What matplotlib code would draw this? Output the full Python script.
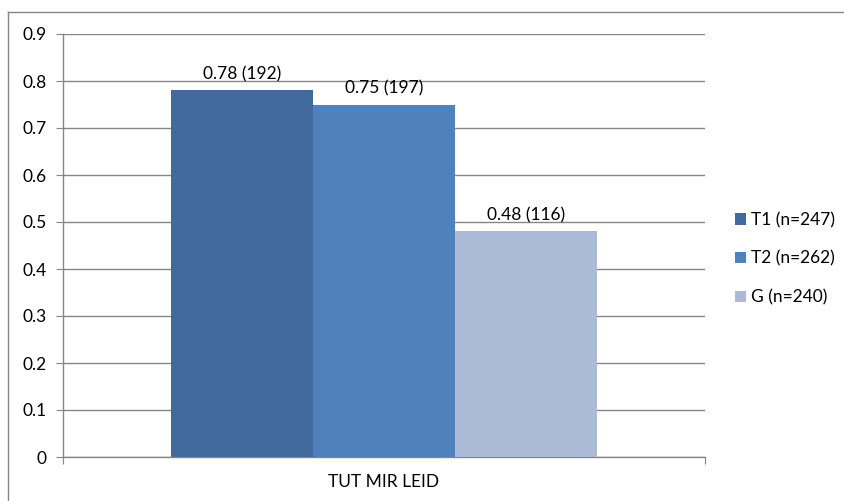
import matplotlib
matplotlib.use("Agg")
import matplotlib.pyplot as plt
from matplotlib.lines import Line2D
from matplotlib.patches import Patch

plt.rcParams['font.family'] = ['Lato', 'DejaVu Sans']

category = "TUT MIR LEID"
series = ["T1 (n=247)", "T2 (n=262)", "G (n=240)"]
values = [0.78, 0.75, 0.48]
labels = ["0.78 (192)", "0.75 (197)", "0.48 (116)"]
colors = ["#41699C", "#4F81BD", "#AABAD7"]
yticks = [0, 0.1, 0.2, 0.3, 0.4, 0.5, 0.6, 0.7, 0.8, 0.9]

W, H = 844, 501
fs = 12.5
fig = plt.figure(figsize=(W / 100, H / 100), dpi=100)
ax = fig.add_axes([63 / W, 1 - 457 / H, (705 - 63) / W, (457 - 34) / H])

bw = 142 / 642
offsets = [-bw, 0, bw]
for i, (v, lab, c) in enumerate(zip(values, labels, colors)):
    ax.bar(offsets[i], v, width=bw, color=c, zorder=3)
    ax.annotate(lab, (offsets[i], v), xytext=(0, 6), textcoords="offset points",
                ha="center", va="bottom", fontsize=fs, color="#000000", zorder=4)

ax.set_xlim(-0.5, 0.5)
ax.set_ylim(0, 0.9)
ax.set_yticks(yticks)
ax.set_yticklabels([f"{t:g}" for t in yticks], fontsize=fs)
ax.yaxis.grid(True, color="#868686", linewidth=1.0, zorder=0)
ax.set_xticks([-0.5, 0.5])
ax.set_xticklabels(["", ""])
ax.tick_params(axis="y", length=5, color="#868686", pad=7)
ax.tick_params(axis="x", length=5, color="#868686")
for s in ["top", "right"]:
    ax.spines[s].set_visible(False)
for s in ["left", "bottom"]:
    ax.spines[s].set_color("#868686")
    ax.spines[s].set_linewidth(1.0)
ax.text(0, -0.04, category, transform=ax.get_xaxis_transform(), ha="center",
        va="top", fontsize=fs)

handles = [Patch(facecolor=c, edgecolor="none") for c in colors]
leg = fig.legend(handles, series, loc="upper left", bbox_to_anchor=(728 / W, 1 - 205 / H),
                 frameon=False, fontsize=fs, handlelength=0.65, handleheight=0.65,
                 handletextpad=0.3, labelspacing=1.3, borderaxespad=0)

# outer chart border (left and top visible)
fig.add_artist(Line2D([8 / W, 8 / W], [0, 1 - 12 / H], color="#868686", lw=1.0,
                      transform=fig.transFigure))
fig.add_artist(Line2D([8 / W, 1], [1 - 12 / H, 1 - 12 / H], color="#868686", lw=1.0,
                      transform=fig.transFigure))

fig.savefig("out.png", dpi=100)
